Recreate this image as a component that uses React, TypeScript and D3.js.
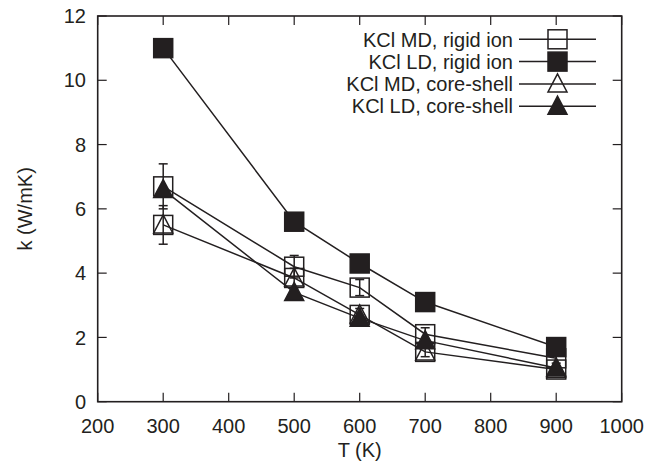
import React from "react";
import * as d3 from "d3";

const temps = [300, 500, 600, 700, 900];
const mdRigid = [6.7, 4.2, 3.55, 2.1, 1.35];
const mdRigidErr = [0.7, 0.35, 0.25, 0.2, 0.15];
const ldRigid = [11.0, 5.6, 4.3, 3.1, 1.7];
const mdCore = [5.5, 3.85, 2.7, 1.55, 1.0];
const mdCoreErr = [0.6, 0.3, 0.2, 0.15, 0.1];
const ldCore = [6.6, 3.4, 2.6, 1.9, 1.05];
const xTicks = [200, 300, 400, 500, 600, 700, 800, 900, 1000];
const yTicks = [0, 2, 4, 6, 8, 10, 12];
const legendLabels = [
  "KCl MD, rigid ion",
  "KCl LD, rigid ion",
  "KCl MD, core-shell",
  "KCl LD, core-shell",
];

const W = 661;
const H = 463;
const C = "#231f20";
const FONT = "'Liberation Sans', Arial, Helvetica, sans-serif";

type Marker = "openSquare" | "filledSquare" | "openTri" | "filledTri";

function MarkerShape({ x, y, kind }: { x: number; y: number; kind: Marker }) {
  const s = 9.5;
  if (kind === "openSquare" || kind === "filledSquare") {
    return (
      <rect
        x={x - s}
        y={y - s}
        width={2 * s}
        height={2 * s}
        fill={kind === "filledSquare" ? C : "none"}
        stroke={C}
        strokeWidth={1.5}
      />
    );
  }
  const pts = [
    [x, y - 10],
    [x - 9.5, y + 8],
    [x + 9.5, y + 8],
  ]
    .map((p) => p.join(","))
    .join(" ");
  return (
    <polygon
      points={pts}
      fill={kind === "filledTri" ? C : "none"}
      stroke={C}
      strokeWidth={1.5}
      strokeLinejoin="miter"
    />
  );
}

export default function App() {
  const x = d3.scaleLinear().domain([200, 1000]).range([97.7, 621.7]);
  const y = d3.scaleLinear().domain([0, 12]).range([401.7, 16]);
  const line = d3
    .line<number>()
    .x((_, i) => x(temps[i]))
    .y((d) => y(d));

  const series: { vals: number[]; err?: number[]; markers: Marker[] }[] = [
    { vals: mdRigid, err: mdRigidErr, markers: ["openSquare"] },
    { vals: ldRigid, markers: ["filledSquare"] },
    { vals: mdCore, err: mdCoreErr, markers: ["openSquare", "openTri"] },
    { vals: ldCore, markers: ["filledTri"] },
  ];
  const legendMarkers: Marker[] = ["openSquare", "filledSquare", "openTri", "filledTri"];

  const [x0, x1] = x.range();
  const [yb, yt] = y.range();
  const tick = 9;

  return (
    <svg width={W} height={H} style={{ position: "absolute", left: 0, top: 0 }} fontFamily={FONT}>
      <rect width={W} height={H} fill="#fff" />
      {/* ticks */}
      {xTicks.map((t) => (
        <g key={"xt" + t}>
          <line x1={x(t)} x2={x(t)} y1={yb} y2={yb - tick} stroke={C} strokeWidth={1.2} />
          <line x1={x(t)} x2={x(t)} y1={yt} y2={yt + tick} stroke={C} strokeWidth={1.2} />
          <text x={x(t)} y={433} textAnchor="middle" fontSize={20} fill={C}>
            {t}
          </text>
        </g>
      ))}
      {yTicks.map((t) => (
        <g key={"yt" + t}>
          <line x1={x0} x2={x0 + tick} y1={y(t)} y2={y(t)} stroke={C} strokeWidth={1.2} />
          <line x1={x1} x2={x1 - tick} y1={y(t)} y2={y(t)} stroke={C} strokeWidth={1.2} />
          <text x={86} y={y(t)} dy="0.36em" textAnchor="end" fontSize={20} fill={C}>
            {t}
          </text>
        </g>
      ))}
      <rect x={x0} y={yt} width={x1 - x0} height={yb - yt} fill="none" stroke={C} strokeWidth={1.6} />
      <text x={(x0 + x1) / 2} y={457} textAnchor="middle" fontSize={20} fill={C}>
        T (K)
      </text>
      <text
        transform={`translate(32,${(yt + yb) / 2}) rotate(-90)`}
        textAnchor="middle"
        fontSize={20}
        fill={C}
      >
        k (W/mK)
      </text>

      {/* lines */}
      {series.map((s, i) => (
        <path key={"l" + i} d={line(s.vals) || ""} fill="none" stroke={C} strokeWidth={1.5} />
      ))}
      {/* error bars */}
      {series.map((s, i) =>
        s.err
          ? s.vals.map((v, j) => {
              const cx = x(temps[j]);
              const lo = y(v - s.err![j]);
              const hi = y(v + s.err![j]);
              return (
                <g key={"e" + i + "-" + j}>
                  <line x1={cx} x2={cx} y1={lo} y2={hi} stroke={C} strokeWidth={1.5} />
                  <line x1={cx - 4.5} x2={cx + 4.5} y1={lo} y2={lo} stroke={C} strokeWidth={1.5} />
                  <line x1={cx - 4.5} x2={cx + 4.5} y1={hi} y2={hi} stroke={C} strokeWidth={1.5} />
                </g>
              );
            })
          : null
      )}
      {/* markers */}
      {series.map((s, i) =>
        s.vals.map((v, j) =>
          s.markers.map((m, k) => (
            <MarkerShape key={`m${i}-${j}-${k}`} x={x(temps[j])} y={y(v)} kind={m} />
          ))
        )
      )}

      {/* legend */}
      {legendLabels.map((lab, i) => {
        const ly = 39.3 + i * 22.3;
        return (
          <g key={"lg" + i}>
            <text x={513} y={ly} dy="0.36em" textAnchor="end" fontSize={20} fill={C}>
              {lab}
            </text>
            <line x1={519} x2={596} y1={ly} y2={ly} stroke={C} strokeWidth={1.5} />
            <MarkerShape x={557.5} y={ly} kind={legendMarkers[i]} />
          </g>
        );
      })}
    </svg>
  );
}
